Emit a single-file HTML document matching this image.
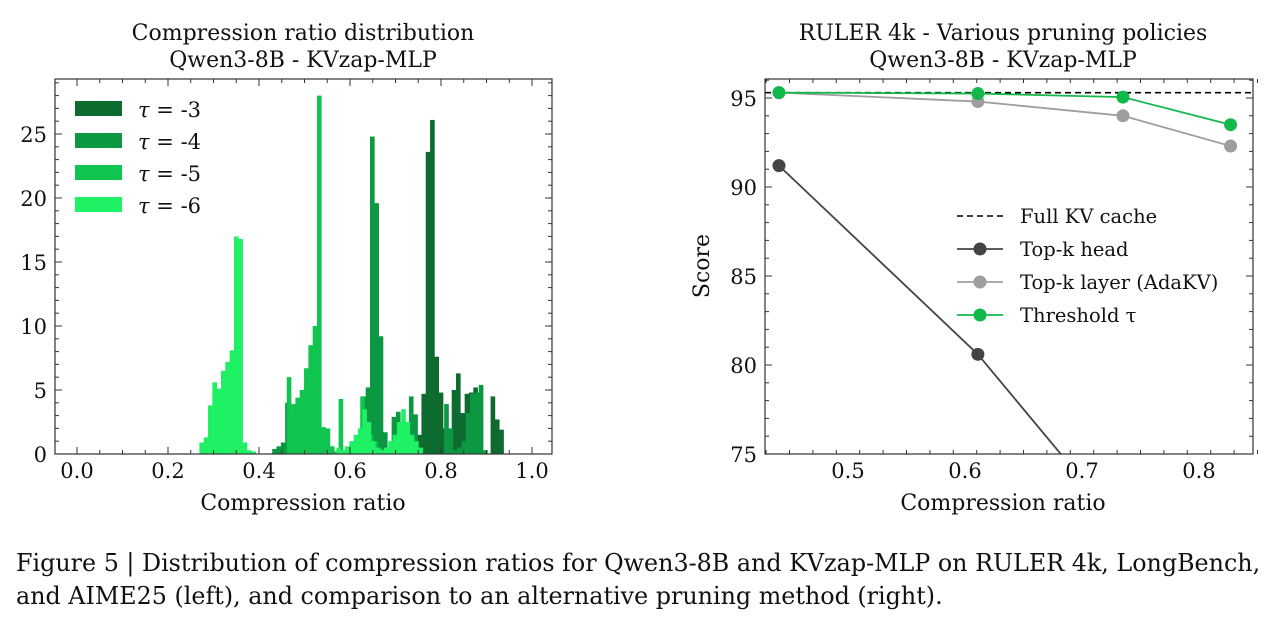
<!DOCTYPE html>
<html><head><meta charset="utf-8">
<style>
html,body{margin:0;padding:0;background:#fff;}
body{width:1278px;height:621px;overflow:hidden;font-family:"DejaVu Serif","Liberation Serif",serif;}
svg text{font-family:"DejaVu Serif","Liberation Serif",serif;fill:#111;}
.cap{position:absolute;left:16px;font-size:23.8px;color:#111;white-space:nowrap;font-family:"DejaVu Serif","Liberation Serif",serif;}
</style></head>
<body>
<svg id="fig" width="1278" height="621" style="position:absolute;left:0;top:0"></svg>
<div class="cap" style="top:549px">Figure 5 | Distribution of compression ratios for Qwen3-8B and KVzap-MLP on RULER 4k, LongBench,</div>
<div class="cap" style="top:582px">and AIME25 (left), and comparison to an alternative pruning method (right).</div>
<script>
// ---- Histogram data (bin width, start ratio, counts) ----
const binWidth = 0.0095;
const tau3Start = 0.700;
const tau3Counts = [0.2,0.3,0.5,0.8,1,1.5,4.7,23.6,26.1,7.6,4.8,2,0.5,5,6.3,3.2,4.7,4.8,5.2,0.3,0,0,4.5,2.7,1.9];
const tau4StartA = 0.429;
const tau4CountsA = [0.4,0.6,0.9,4,3,3.6,3.9,4,2,0.5];
const tau4StartB = 0.606;
const tau4CountsB = [0.5,1,4.5,5.2,24.8,19.6,9.2,1.7,0.5,2.9,3.3,0.1,0.1,4.5,3.1];
const tau4StartC = 0.807;
const tau4CountsC = [3.9,2,0.3,0.5,1,3.2,4.7,4.8,5.4,0.3];
const tau5Start = 0.461;
const tau5Counts = [6,3.9,4.4,5,6.7,8.5,10,28,2.1,2,0.6,0.2,4.3,0.1,0.2,0.3,0.8,4.5,2.5,1.5,1,0.5];
const tau6StartA = 0.269;
const tau6CountsA = [0.9,1.3,3.8,5.6,5.1,6.5,7.2,8.1,17,16.8,0.9,0.3,0.2];
const tau6StartB = 0.57;
const tau6CountsB = [0.5,0.3,0.6,1,1.5,2,3.5,2.5,1,0.5,0.3,0.5,1,1.5,2.5,3.5,2.5,1.5,1,0.5];
const histLegend = ["-3","-4","-5","-6"];
const histColors = ["#0d6b2f","#0c9742","#0fc44f","#1ef264"];
const histXTicks = [0,0.2,0.4,0.6,0.8,1.0];
const histYTicks = [0,5,10,15,20,25];

// ---- Line chart data ----
const fullKV = 95.3;
const headX = [0.441,0.611,0.735];
const headY = [91.2,80.6,70.8];
const layerX = [0.441,0.611,0.735,0.827];
const layerY = [95.3,94.8,94.0,92.3];
const threshX = [0.441,0.611,0.735,0.827];
const threshY = [95.3,95.25,95.05,93.5];
const lineXTicks = [0.5,0.6,0.7,0.8];
const lineYTicks = [75,80,85,90,95];

const NS="http://www.w3.org/2000/svg";
const svg=document.getElementById('fig');
function mk(tag,attrs,parent){const e=document.createElementNS(NS,tag);for(const k in attrs)e.setAttribute(k,attrs[k]);(parent||svg).appendChild(e);return e;}

// ===== Left histogram =====
const L={l:55,r:552,t:79,b:454};
const hx=v=>77+v*455;
const hy=v=>454-v*12.8;
const gH=mk('g',{});


function drawHist(start,counts,color,name){
  counts.forEach((c,i)=>{
    if(c<=0)return;
    const x0=hx(start+i*binWidth),x1=hx(start+(i+1)*binWidth);
    const r=mk('rect',{x:x0,y:hy(c),width:x1-x0+0.3,height:hy(0)-hy(c),fill:color},gH);
    
    
  });
}
drawHist(tau3Start,tau3Counts,histColors[0],'bar-tau-3');
drawHist(tau4StartA,tau4CountsA,histColors[1],'bar-tau-4');
drawHist(tau4StartB,tau4CountsB,histColors[1],'bar-tau-4');
drawHist(tau4StartC,tau4CountsC,histColors[1],'bar-tau-4');
drawHist(tau5Start,tau5Counts,histColors[2],'bar-tau-5');
drawHist(tau6StartA,tau6CountsA,histColors[3],'bar-tau-6');
drawHist(tau6StartB,tau6CountsB,histColors[3],'bar-tau-6');

function frame(B,g){
  mk('rect',{x:B.l,y:B.t,width:B.r-B.l,height:B.b-B.t,fill:'none',stroke:'#333','stroke-width':1.2},g);
}
function tickX(g,B,px,len){mk('line',{x1:px,x2:px,y1:B.b,y2:B.b-len,stroke:'#333','stroke-width':1},g);mk('line',{x1:px,x2:px,y1:B.t,y2:B.t+len,stroke:'#333','stroke-width':1},g);}
function tickY(g,B,py,len){mk('line',{x1:B.l,x2:B.l+len,y1:py,y2:py,stroke:'#333','stroke-width':1},g);mk('line',{x1:B.r,x2:B.r-len,y1:py,y2:py,stroke:'#333','stroke-width':1},g);}

frame(L,gH);
for(let k=0;k<=20;k++){tickX(gH,L,hx(k*0.05),k%4===0?7:4);}
histXTicks.forEach(v=>{const t=mk('text',{x:hx(v),y:478,'text-anchor':'middle','font-size':21},gH);t.textContent=v.toFixed(1);});
for(let v=0;v<=29;v++){tickY(gH,L,hy(v),v%5===0?7:4);}
histYTicks.forEach(v=>{const t=mk('text',{x:47,y:hy(v)+8,'text-anchor':'end','font-size':21},gH);t.textContent=v;});
let t=mk('text',{x:303,y:40,'text-anchor':'middle','font-size':22},gH);t.textContent='Compression ratio distribution';
t=mk('text',{x:303,y:67,'text-anchor':'middle','font-size':22},gH);t.textContent='Qwen3-8B - KVzap-MLP';
t=mk('text',{x:303,y:510,'text-anchor':'middle','font-size':22},gH);t.textContent='Compression ratio';
histLegend.forEach((lab,i)=>{
  const g=mk('g',{},gH);
  
  
  mk('rect',{x:75,y:101+i*32,width:47,height:15,fill:histColors[i]},g);
  const tx=mk('text',{x:138,y:117+i*32,'font-size':21},g);
  const s=mk('tspan',{'font-style':'italic'},tx);s.textContent='\u03c4';
  const s2=mk('tspan',{},tx);s2.textContent=' = '+lab;
});

// ===== Right line chart =====
const R={l:765,r:1253,t:79,b:454};
const lx=v=>848+(v-0.5)*1170;
const ly=v=>98+(95-v)*17.8;
const gL=mk('g',{});


const clip=mk('clipPath',{id:'clipR'},gL);mk('rect',{x:R.l,y:R.t,width:R.r-R.l,height:R.b-R.t},clip);
const plot=mk('g',{'clip-path':'url(#clipR)'},gL);
const dash=mk('line',{x1:R.l,x2:R.r,y1:ly(fullKV),y2:ly(fullKV),stroke:'#000','stroke-width':1.6,'stroke-dasharray':'6,4'},plot);

function series(xs,ys,color,name){
  const g=mk('g',{},plot);
  
  
  mk('polyline',{points:xs.map((x,i)=>lx(x)+','+ly(ys[i])).join(' '),fill:'none',stroke:color,'stroke-width':1.8},g);
  xs.forEach((x,i)=>{const c=mk('circle',{cx:lx(x),cy:ly(ys[i]),r:6.5,fill:color},g);});
}
series(headX,headY,'#444','top-k-head-series');
series(layerX,layerY,'#9e9e9e','top-k-layer-series');
series(threshX,threshY,'#13b84a','threshold-series');
frame(R,gL);
for(let k=0;k<=21;k++){const v=0.43+k*0.02;const major=lineXTicks.some(m=>Math.abs(m-v)<0.001);tickX(gL,R,lx(v),major?7:4);}
lineXTicks.forEach(v=>{const t=mk('text',{x:lx(v),y:478,'text-anchor':'middle','font-size':21},gL);t.textContent=v.toFixed(1);});
for(let v=75;v<=96;v++){tickY(gL,R,ly(v),v%5===0?7:4);}
lineYTicks.forEach(v=>{const t=mk('text',{x:757,y:ly(v)+8,'text-anchor':'end','font-size':21},gL);t.textContent=v;});
t=mk('text',{x:1003,y:40,'text-anchor':'middle','font-size':22},gL);t.textContent='RULER 4k - Various pruning policies';
t=mk('text',{x:1003,y:67,'text-anchor':'middle','font-size':22},gL);t.textContent='Qwen3-8B - KVzap-MLP';
t=mk('text',{x:1003,y:510,'text-anchor':'middle','font-size':22},gL);t.textContent='Compression ratio';
t=mk('text',{x:0,y:0,'text-anchor':'middle','font-size':22,transform:'translate(709,266) rotate(-90)'},gL);t.textContent='Score';
const legItems=[['Full KV cache','#000','dash'],['Top-k head','#444','dot'],['Top-k layer (AdaKV)','#9e9e9e','dot'],['Threshold \u03c4','#13b84a','dot']];
legItems.forEach((it,i)=>{
  const g=mk('g',{},gL);
  
  
  const y=216+i*33;
  if(it[2]==='dash'){mk('line',{x1:957,x2:1003,y1:y,y2:y,stroke:it[1],'stroke-width':1.6,'stroke-dasharray':'6,4'},g);}
  else{mk('line',{x1:957,x2:1003,y1:y,y2:y,stroke:it[1],'stroke-width':1.8},g);mk('circle',{cx:980,cy:y,r:6.5,fill:it[1]},g);}
  const tx=mk('text',{x:1020,y:y+7,'font-size':19.5},g);tx.textContent=it[0];
});
</script>
</body></html>
